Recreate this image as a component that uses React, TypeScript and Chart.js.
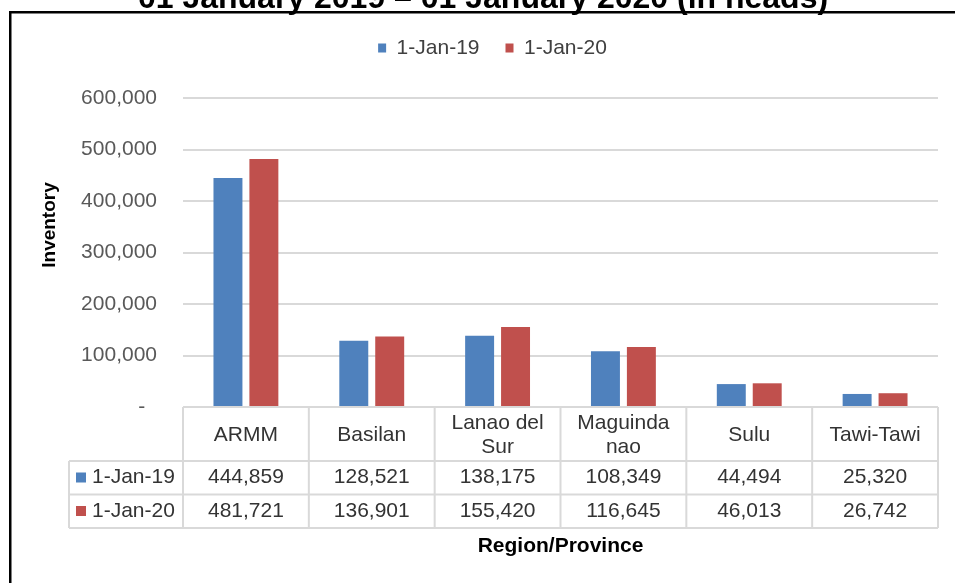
import React, { useEffect, useRef } from 'react';
import { Chart, registerables } from 'chart.js';

Chart.register(...registerables);

// ---------- data ----------
const chartTitle = '01 January 2019 – 01 January 2020 (in heads)';
const categories: string[][] = [
  ['ARMM'],
  ['Basilan'],
  ['Lanao del', 'Sur'],
  ['Maguinda', 'nao'],
  ['Sulu'],
  ['Tawi-Tawi'],
];
const seriesNames = ['1-Jan-19', '1-Jan-20'];
const jan19 = [444859, 128521, 138175, 108349, 44494, 25320];
const jan20 = [481721, 136901, 155420, 116645, 46013, 26742];
const seriesColors = ['#4F81BD', '#C0504D'];
const yMax = 600000;
const yStep = 100000;
const yTitle = 'Inventory';
const xTitle = 'Region/Province';

const FONT = '"Liberation Sans", Arial, Helvetica, sans-serif';

const fmt = (v: number) => v.toLocaleString('en-US');

// frame, page title and y-axis title
const framePlugin = {
  id: 'frameAndTitles',
  beforeDraw(chart: any) {
    const { ctx, width, height } = chart;
    ctx.save();
    ctx.fillStyle = '#ffffff';
    ctx.fillRect(0, 0, width, height);
    ctx.fillStyle = '#000000';
    ctx.fillRect(9, 11, width, 2.5);
    ctx.fillRect(9, 11, 2.5, height);
    ctx.font = `bold 32px ${FONT}`;
    ctx.textAlign = 'center';
    ctx.textBaseline = 'alphabetic';
    ctx.fillText(chartTitle, 483, 8);
    ctx.translate(50, 225);
    ctx.rotate(-Math.PI / 2);
    ctx.font = `bold 19px ${FONT}`;
    ctx.textBaseline = 'middle';
    ctx.fillText(yTitle, 0, 0);
    ctx.restore();
  },
};

// data table under the plot, aligned with the category scale
const tablePlugin = {
  id: 'dataTable',
  afterDraw(chart: any) {
    const { ctx, chartArea } = chart;
    const xs = chart.scales.x;
    const n = categories.length;
    const step = (chartArea.right - chartArea.left) / n;
    const top = chartArea.bottom;
    const headH = 54;
    const rowH = 33.5;
    const r1 = top + headH;
    const r2 = r1 + rowH;
    const r3 = r2 + rowH;
    const leftX = 69;
    const right = chartArea.right;
    const series = [jan19, jan20];

    ctx.save();
    ctx.strokeStyle = '#d9d9d9';
    ctx.lineWidth = 2;
    ctx.beginPath();
    ctx.moveTo(chartArea.left, top);
    ctx.lineTo(right, top);
    [r1, r2, r3].forEach((y) => {
      ctx.moveTo(leftX, y);
      ctx.lineTo(right, y);
    });
    ctx.moveTo(leftX, r1);
    ctx.lineTo(leftX, r3);
    for (let i = 0; i <= n; i++) {
      const x = i < n ? xs.getPixelForValue(i) - step / 2 : xs.getPixelForValue(n - 1) + step / 2;
      ctx.moveTo(x, top);
      ctx.lineTo(x, r3);
    }
    ctx.stroke();

    ctx.fillStyle = '#333333';
    ctx.font = `21px ${FONT}`;
    ctx.textAlign = 'center';
    ctx.textBaseline = 'middle';
    const headC = top + 28.5;
    categories.forEach((lines, i) => {
      const cx = xs.getPixelForValue(i);
      lines.forEach((ln, j) => {
        ctx.fillText(ln, cx, headC + (j - (lines.length - 1) / 2) * 24);
      });
      series.forEach((vals, s) => {
        ctx.fillText(fmt(vals[i]), cx, (s === 0 ? r1 : r2) + 16.5);
      });
    });
    ctx.textAlign = 'left';
    series.forEach((_, s) => {
      const cy = (s === 0 ? r1 : r2) + 16.5;
      ctx.fillStyle = seriesColors[s];
      ctx.fillRect(76, cy - 5, 10, 10);
      ctx.fillStyle = '#333333';
      ctx.fillText(seriesNames[s], 92, cy);
    });
    ctx.restore();
  },
};

export default function App() {
  const ref = useRef<HTMLCanvasElement | null>(null);

  useEffect(() => {
    if (!ref.current) return;
    Chart.defaults.font.family = FONT;
    const chart = new Chart(ref.current, {
      type: 'bar',
      data: {
        labels: categories,
        datasets: [
          {
            label: seriesNames[0],
            data: jan19,
            backgroundColor: seriesColors[0],
            borderWidth: 0,
            xAxisID: 'x',
            yAxisID: 'y',
            categoryPercentage: 0.571,
            barPercentage: 0.806,
          },
          {
            label: seriesNames[1],
            data: jan20,
            backgroundColor: seriesColors[1],
            borderWidth: 0,
            xAxisID: 'x',
            yAxisID: 'y',
            categoryPercentage: 0.571,
            barPercentage: 0.806,
          },
        ],
      },
      options: {
        animation: false,
        responsive: false,
        devicePixelRatio: 1,
        layout: { padding: { left: 47, right: 17, top: 11.5, bottom: 0 } },
        plugins: {
          legend: {
            position: 'top',
            labels: {
              font: { size: 21, family: FONT },
              color: '#404040',
              boxWidth: 8,
              boxHeight: 9,
              padding: 26,
            },
          },
          tooltip: { enabled: false },
          title: { display: false },
        },
        scales: {
          x: {
            type: 'category',
            position: 'bottom',
            grid: { display: false, drawTicks: false },
            border: { display: false },
            ticks: { display: false },
            title: {
              display: true,
              text: xTitle,
              color: '#000000',
              font: { size: 21, weight: 'bold', family: FONT },
              padding: { top: 0, bottom: 24.4 },
            },
            afterFit: (s: any) => {
              s.height = 176;
            },
          },
          xTop: {
            type: 'category',
            position: 'top',
            grid: { display: false, drawTicks: false },
            border: { display: false },
            ticks: { display: false },
            afterFit: (s: any) => {
              s.height = 29.5;
            },
          },
          y: {
            type: 'linear',
            position: 'left',
            min: 0,
            max: yMax,
            grid: { color: '#d9d9d9', lineWidth: 2, drawTicks: false },
            border: { display: false },
            ticks: {
              stepSize: yStep,
              padding: 26,
              color: '#595959',
              font: { size: 21, family: FONT },
              callback: (v: any) => (Number(v) === 0 ? '-  ' : fmt(Number(v))),
            },
            afterFit: (s: any) => {
              s.width = 136;
            },
          },
        },
      } as any,
      plugins: [framePlugin, tablePlugin],
    });
    return () => chart.destroy();
  }, []);

  return (
    <div style={{ position: 'fixed', left: 0, top: 0, width: 955, height: 583, background: '#fff' }}>
      <canvas ref={ref} width={955} height={583} style={{ display: 'block' }} />
    </div>
  );
}
